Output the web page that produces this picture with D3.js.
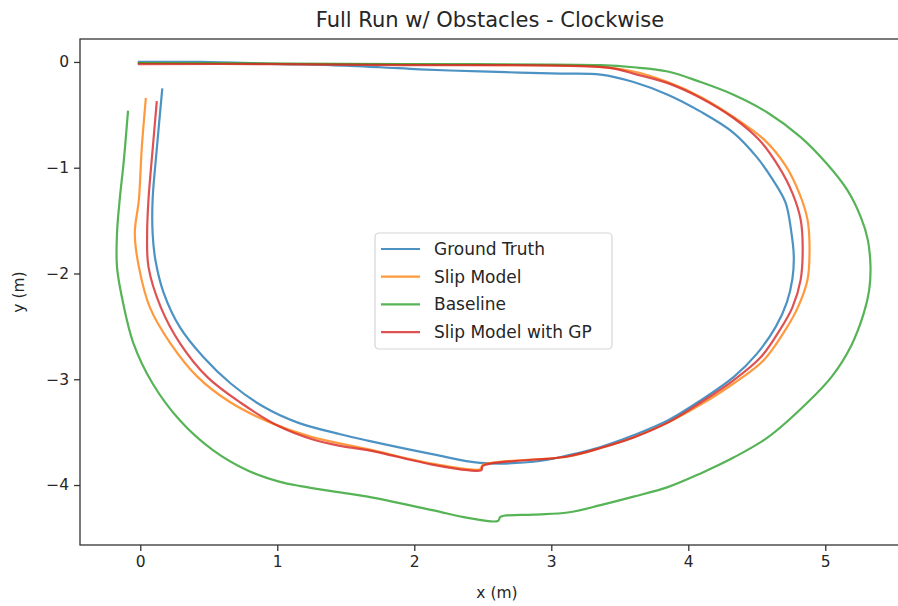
<!DOCTYPE html>
<html>
<head>
<meta charset="UTF-8">
<script src="https://d3js.org/d3.v7.min.js"></script>
<style>
  body { margin: 0; background: #fff; }
  text { font-family: "DejaVu Sans", sans-serif; fill: #262626; }
</style>
</head>
<body>
<svg id="chart" width="898" height="606"></svg>
<script>
// series (metres)
var seriesNames = ["Ground Truth", "Slip Model", "Baseline", "Slip Model with GP"];
var seriesColors = ["#1f77b4", "#ff7f0e", "#2ca02c", "#d62728"];

var gtX = [-0.01,0.44,1.02,1.39,1.75,2.04,2.48,2.77,3.07,3.36,3.60,3.85,4.09,4.33,4.50,4.62,4.71,4.75,4.77,4.76,4.72,4.64,4.50,4.33,4.09,3.85,3.60,3.36,3.12,2.87,2.48,2.14,1.66,1.46,1.15,0.90,0.66,0.46,0.29,0.17,0.11,0.09,0.09,0.12,0.16];
var gtY = [0.00,0.00,-0.02,-0.03,-0.05,-0.07,-0.09,-0.10,-0.11,-0.12,-0.19,-0.31,-0.47,-0.67,-0.90,-1.12,-1.33,-1.59,-1.84,-2.05,-2.27,-2.50,-2.76,-2.98,-3.20,-3.39,-3.53,-3.64,-3.72,-3.78,-3.79,-3.71,-3.58,-3.52,-3.41,-3.26,-3.04,-2.79,-2.51,-2.18,-1.87,-1.62,-1.30,-0.83,-0.26];

var slipX = [-0.01,1.17,2.63,3.28,3.60,3.85,4.09,4.33,4.55,4.71,4.81,4.87,4.885,4.87,4.80,4.71,4.55,4.33,4.09,3.85,3.60,3.36,3.12,2.50,2.48,2.14,1.66,1.26,0.95,0.66,0.42,0.22,0.07,-0.01,-0.04,-0.01,0.01,0.04];
var slipY = [-0.01,-0.02,-0.03,-0.04,-0.09,-0.19,-0.33,-0.52,-0.73,-0.98,-1.24,-1.49,-1.75,-2.06,-2.32,-2.53,-2.82,-3.04,-3.24,-3.41,-3.55,-3.65,-3.73,-3.81,-3.85,-3.80,-3.66,-3.55,-3.41,-3.22,-2.98,-2.66,-2.32,-1.94,-1.62,-1.30,-0.83,-0.35];

var baseX = [-0.01,1.90,3.36,3.60,3.85,4.09,4.33,4.58,4.82,5.01,5.16,5.26,5.31,5.33,5.32,5.28,5.19,5.05,4.87,4.58,4.33,4.09,3.85,3.60,3.36,3.12,2.87,2.63,2.61,2.39,2.14,1.66,1.46,1.17,1.02,0.78,0.53,0.29,0.09,-0.05,-0.13,-0.17,-0.17,-0.15,-0.12,-0.09];
var baseY = [-0.01,-0.02,-0.03,-0.05,-0.09,-0.19,-0.31,-0.48,-0.71,-0.96,-1.21,-1.47,-1.68,-1.94,-2.16,-2.38,-2.68,-2.97,-3.22,-3.55,-3.74,-3.89,-4.02,-4.11,-4.19,-4.26,-4.28,-4.30,-4.34,-4.31,-4.24,-4.11,-4.07,-4.01,-3.97,-3.86,-3.67,-3.39,-3.04,-2.66,-2.25,-1.94,-1.62,-1.30,-0.93,-0.47];

var gpX = [-0.01,1.02,1.90,2.63,3.21,3.45,3.60,3.85,4.09,4.33,4.52,4.66,4.76,4.82,4.835,4.82,4.76,4.67,4.53,4.33,4.09,3.85,3.60,3.36,3.12,2.50,2.49,2.39,2.14,1.66,1.46,1.26,1.02,0.73,0.49,0.29,0.15,0.06,0.05,0.06,0.09,0.12];
var gpY = [-0.02,-0.02,-0.03,-0.03,-0.04,-0.06,-0.11,-0.20,-0.34,-0.53,-0.74,-0.99,-1.24,-1.49,-1.75,-2.06,-2.32,-2.53,-2.79,-3.01,-3.22,-3.41,-3.55,-3.65,-3.73,-3.82,-3.86,-3.86,-3.81,-3.67,-3.63,-3.57,-3.45,-3.22,-2.98,-2.66,-2.32,-1.94,-1.62,-1.30,-0.83,-0.38];

var xTicks = [0, 1, 2, 3, 4, 5];
var yTicks = [0, -1, -2, -3, -4];

var series = [[gtX, gtY], [slipX, slipY], [baseX, baseY], [gpX, gpY]];

var svg = d3.select("#chart");
var pl = 80, pt = 39, pr = 907.5, pb = 545;

var x = d3.scaleLinear().domain([-0.44, 5.6]).range([pl, pr]);
var y = d3.scaleLinear().domain([-4.567, 0.217]).range([pb, pt]);

svg.append("defs").append("clipPath").attr("id", "clip")
  .append("rect").attr("x", pl).attr("y", pt)
  .attr("width", pr - pl).attr("height", pb - pt);

// lines
var line = d3.line()
  .x(function(d){ return x(d[0]); })
  .y(function(d){ return y(d[1]); })
  .curve(d3.curveCatmullRom.alpha(0.5));

var plot = svg.append("g").attr("clip-path", "url(#clip)");
series.forEach(function(s, i){
  var pts = d3.zip(s[0], s[1]);
  plot.append("path")
    .attr("d", line(pts))
    .attr("fill", "none")
    .attr("stroke", seriesColors[i])
    .attr("stroke-opacity", 0.8)
    .attr("stroke-width", 2.2)
    .attr("stroke-linejoin", "round")
    .attr("stroke-linecap", "square");
});

// axes
var xAxis = d3.axisBottom(x).tickValues(xTicks).tickSize(6).tickPadding(5)
  .tickFormat(d3.format("d"));
var yAxis = d3.axisLeft(y).tickValues(yTicks).tickSize(6).tickPadding(5)
  .tickFormat(function(d){ return d < 0 ? "\u2212" + Math.abs(d) : d; });

var gx = svg.append("g").attr("transform", "translate(0," + pb + ")").call(xAxis);
var gy = svg.append("g").attr("transform", "translate(" + pl + ",0)").call(yAxis);
[gx, gy].forEach(function(g){
  g.select(".domain").remove();
  g.selectAll("line").attr("stroke", "#333").attr("stroke-width", 1.3);
  g.selectAll("text").style("font-family", "DejaVu Sans").style("font-size", "15.5px").attr("fill", "#262626");
});

svg.append("rect")
  .attr("x", pl).attr("y", pt)
  .attr("width", pr - pl).attr("height", pb - pt)
  .attr("fill", "none").attr("stroke", "#333").attr("stroke-width", 1.3);

// labels
svg.append("text").attr("x", 490).attr("y", 27)
  .attr("text-anchor", "middle").style("font-size", "21px")
  .text("Full Run w/ Obstacles - Clockwise");
svg.append("text").attr("x", 497).attr("y", 598)
  .attr("text-anchor", "middle").style("font-size", "15.5px")
  .text("x (m)");
svg.append("text").attr("transform", "translate(24,292) rotate(-90)")
  .attr("text-anchor", "middle").style("font-size", "15.5px")
  .text("y (m)");

// legend
var lg = svg.append("g").attr("transform", "translate(375,233)");
lg.append("rect").attr("width", 237).attr("height", 116).attr("rx", 4)
  .attr("fill", "#fff").attr("fill-opacity", 0.8)
  .attr("stroke", "#d5d5d5").attr("stroke-width", 1.2);
seriesNames.forEach(function(n, i){
  var yy = 16 + i * 27.7;
  lg.append("line").attr("x1", 6).attr("x2", 45).attr("y1", yy).attr("y2", yy)
    .attr("stroke", seriesColors[i]).attr("stroke-opacity", 0.8).attr("stroke-width", 2.2);
  lg.append("text").attr("x", 59).attr("y", yy + 6)
    .style("font-size", "17px").text(n);
});
</script>
</body>
</html>
